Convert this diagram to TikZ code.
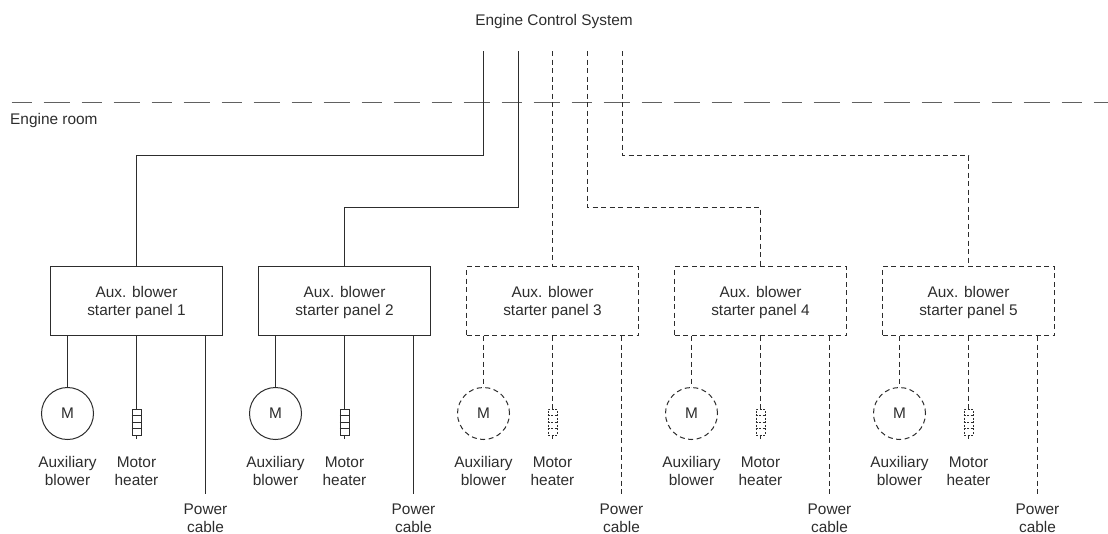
\documentclass[tikz,border=0pt]{standalone}
\usepackage{fontspec}
\setmainfont{Liberation Sans}
\usetikzlibrary{calc}
\definecolor{ink}{RGB}{45,45,45}
\tikzset{
  solidline/.style={draw=ink,line width=1pt,solid},
  dashline/.style={draw=ink,line width=1pt,dash pattern=on 5pt off 3.5pt},
  dotline/.style={draw=ink,line width=0.9pt,dash pattern=on 2pt off 1.5pt},
  label/.style={font=\fontsize{15.4}{18}\selectfont,text=ink,align=center,inner sep=0pt},
  zone/.style={draw=ink!75,line width=1.6pt,dash pattern=on 20pt off 12pt on 26pt off 12pt}
}
\begin{document}
\begin{tikzpicture}[x=1pt,y=-1pt]
    \useasboundingbox (0,0) rectangle (1108,533);
    \node[label] (ecs) at (554,21.5) {Engine Control System};
    \node[label,anchor=west] (room) at (10,121) {Engine room};
    \coordinate (zoneA) at (11.7,102.5);
    \coordinate (zoneB) at (1108,102.5);
    \draw[zone] (zoneA) -- (zoneB);
    \foreach \i/\ls/\hs/\tx/\by in {
      1/solidline/solidline/483.5/155.5,
      2/solidline/solidline/518.5/207.5,
      3/dashline/dotline/552.5/207.5,
      4/dashline/dotline/587.5/207.5,
      5/dashline/dotline/622.5/155.5}
    {
      \pgfmathsetmacro{\cx}{136.5+(\i-1)*208}
      % panel
      \node[\ls,minimum width=172pt,minimum height=69pt] (panel\i) at (\cx,301) {};
      \node[label] (ptext\i) at (\cx,303) {Aux. blower\\starter panel \i};
      \coordinate (top\i) at (\tx,51);
      \coordinate (bus\i) at (\tx,\by);
      \draw[\ls] (top\i) -- (bus\i) -| (panel\i.north);
      % motor
      \node[\ls,label,circle,minimum size=52pt] (motor\i) at (\cx-69,413.5) {M};
      \draw[\ls] (panel\i.south -| motor\i) -- (motor\i);
      \node[label] (blower\i) at (\cx-69,470.5) {Auxiliary\\blower};
      % heater
      \node[\hs,minimum width=9pt,minimum height=26pt,inner sep=0pt] (heater\i) at (\cx,422) {};
      \foreach \f in {0.25,0.5,0.75}
        \draw[\hs] ($(heater\i.north west)!\f!(heater\i.south west)$) -- ($(heater\i.north east)!\f!(heater\i.south east)$);
      \coordinate (tail\i) at (\cx,439);
      \draw[\ls] (panel\i.south) -- (heater\i);
      \draw[\ls] (heater\i) -- (tail\i);
      \node[label] (mheat\i) at (\cx,471) {Motor\\heater};
      % power cable
      \coordinate (feed\i) at (\cx+69,336);
      \coordinate (end\i) at (\cx+69,494);
      \draw[\ls] (feed\i) -- (end\i);
      \node[label] (cable\i) at (\cx+69,518) {Power\\cable};
    }
\end{tikzpicture}
\end{document}
